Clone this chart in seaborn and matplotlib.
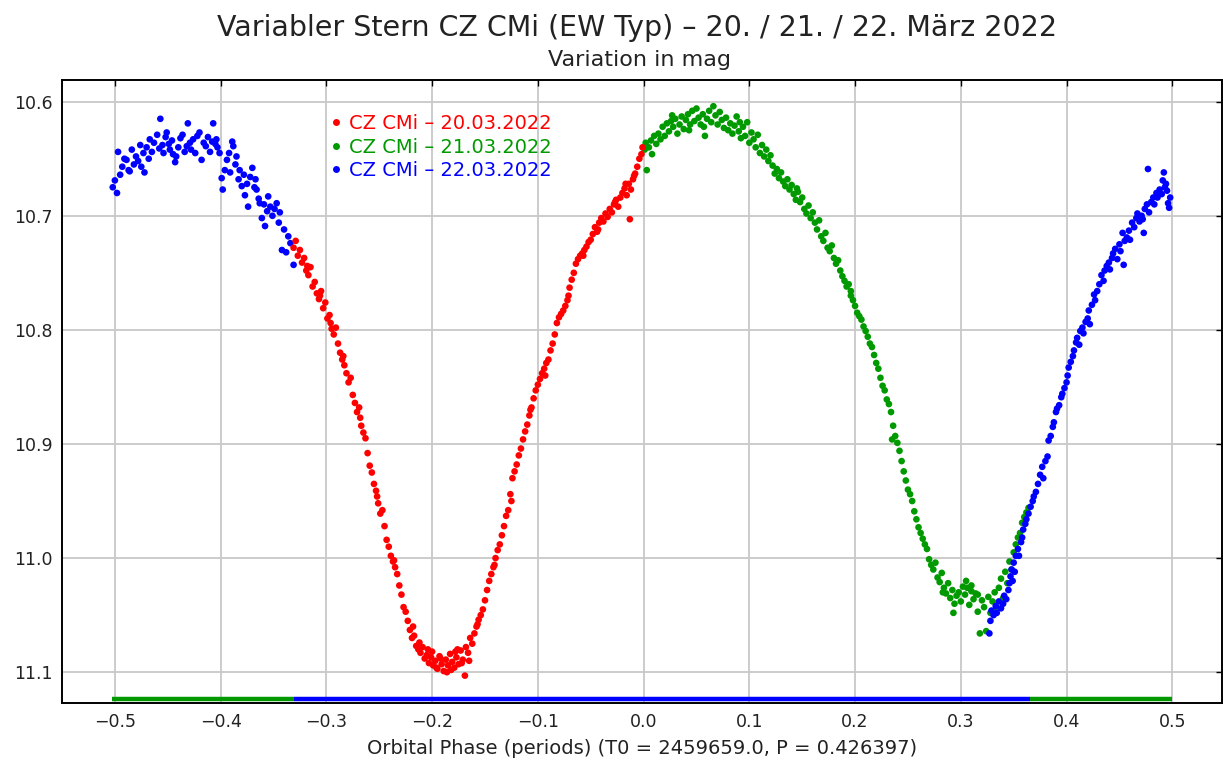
import matplotlib
matplotlib.use("Agg")
import matplotlib.pyplot as plt
import seaborn as sns
import pandas as pd

# ---------------- data ----------------
title = "Variabler Stern CZ CMi (EW Typ) – 20. / 21. / 22. März 2022"
subtitle = "Variation in mag"
xlabel = "Orbital Phase (periods) (T0 = 2459659.0, P = 0.426397)"
labels = ["CZ CMi – 20.03.2022", "CZ CMi – 21.03.2022", "CZ CMi – 22.03.2022"]
colors = ["#ff0000", "#009a00", "#0000ff"]
xticks = [-0.5, -0.4, -0.3, -0.2, -0.1, 0.0, 0.1, 0.2, 0.3, 0.4, 0.5]
yticks = [10.6, 10.7, 10.8, 10.9, 11.0, 11.1]

red_phase = [
    -0.331, -0.329, -0.327, -0.325, -0.323, -0.321, -0.319, -0.317, -0.315, -0.313,
    -0.311, -0.309, -0.307, -0.305, -0.303, -0.301, -0.299, -0.297, -0.295, -0.293,
    -0.291, -0.289, -0.287, -0.285, -0.283, -0.281, -0.279, -0.277, -0.275, -0.273,
    -0.271, -0.269, -0.267, -0.265, -0.263, -0.261, -0.259, -0.257, -0.255, -0.253,
    -0.251, -0.249, -0.247, -0.245, -0.243, -0.241, -0.239, -0.237, -0.235, -0.233,
    -0.231, -0.229, -0.227, -0.225, -0.223, -0.221, -0.219, -0.217, -0.215, -0.213,
    -0.211, -0.209, -0.207, -0.205, -0.203, -0.201, -0.199, -0.197, -0.195, -0.193,
    -0.191, -0.189, -0.187, -0.185, -0.183, -0.181, -0.179, -0.177, -0.175, -0.173,
    -0.171, -0.169, -0.168, -0.166, -0.164, -0.162, -0.160, -0.158, -0.156, -0.154,
    -0.152, -0.150, -0.148, -0.146, -0.144, -0.142, -0.140, -0.138, -0.136, -0.134,
    -0.132, -0.130, -0.128, -0.126, -0.124, -0.122, -0.120, -0.118, -0.116, -0.114,
    -0.112, -0.110, -0.108, -0.106, -0.104, -0.102, -0.100, -0.098, -0.096, -0.094,
    -0.092, -0.090, -0.088, -0.086, -0.084, -0.082, -0.080, -0.078, -0.076, -0.074,
    -0.072, -0.070, -0.068, -0.066, -0.064, -0.062, -0.060, -0.058, -0.056, -0.054,
    -0.052, -0.050, -0.048, -0.046, -0.044, -0.042, -0.040, -0.038, -0.036, -0.034,
    -0.032, -0.030, -0.028, -0.026, -0.024, -0.022, -0.020, -0.018, -0.016, -0.014,
    -0.013, -0.012, -0.010, -0.008, -0.006, -0.004, -0.002, -0.001,
    -0.318, -0.306, -0.296, -0.284, -0.268, -0.252, -0.236, -0.218, -0.204, -0.196,
    -0.186, -0.178, -0.172, -0.157, -0.141, -0.125, -0.107, -0.093, -0.071, -0.057,
    -0.043, -0.027, -0.017, -0.009, -0.212, -0.200, -0.192, -0.182, -0.176, -0.165,
]
red_mag = [
    10.728, 10.722, 10.735, 10.730, 10.741, 10.737, 10.748, 10.752, 10.745, 10.762,
    10.758, 10.768, 10.773, 10.766, 10.781, 10.776, 10.790, 10.787, 10.799, 10.804,
    10.798, 10.812, 10.820, 10.826, 10.831, 10.838, 10.846, 10.842, 10.857, 10.864,
    10.872, 10.868, 10.884, 10.890, 10.895, 10.908, 10.919, 10.925, 10.935, 10.941,
    10.952, 10.961, 10.958, 10.972, 10.984, 10.990, 10.998, 11.003, 11.008, 11.014,
    11.024, 11.032, 11.043, 11.047, 11.055, 11.063, 11.070, 11.068, 11.077, 11.080,
    11.083, 11.078, 11.088, 11.085, 11.092, 11.087, 11.094, 11.090, 11.097, 11.086,
    11.093, 11.099, 11.089, 11.094, 11.084, 11.091, 11.096, 11.087, 11.093, 11.081,
    11.089, 11.103, 11.078, 11.083, 11.070, 11.075, 11.066, 11.060, 11.054, 11.050,
    11.045, 11.037, 11.028, 11.020, 11.014, 11.008, 11.000, 10.993, 10.988, 10.980,
    10.972, 10.963, 10.958, 10.944, 10.930, 10.924, 10.918, 10.910, 10.904, 10.896,
    10.889, 10.883, 10.875, 10.868, 10.860, 10.853, 10.848, 10.843, 10.838, 10.834,
    10.829, 10.826, 10.818, 10.812, 10.804, 10.794, 10.789, 10.786, 10.783, 10.779,
    10.774, 10.763, 10.756, 10.750, 10.742, 10.738, 10.735, 10.733, 10.730, 10.727,
    10.723, 10.721, 10.716, 10.710, 10.714, 10.706, 10.702, 10.705, 10.698, 10.701,
    10.694, 10.697, 10.690, 10.686, 10.692, 10.684, 10.680, 10.676, 10.682, 10.672,
    10.703, 10.677, 10.668, 10.663, 10.657, 10.650, 10.646, 10.640,
    10.744, 10.770, 10.794, 10.823, 10.877, 10.946, 11.002, 11.060, 11.080, 11.096,
    11.100, 11.082, 11.092, 11.058, 11.006, 10.950, 10.870, 10.840, 10.770, 10.735,
    10.712, 10.688, 10.672, 10.665, 11.074, 11.082, 11.088, 11.098, 11.080, 11.090,
]

green_phase = [
    0.001, 0.002, 0.003, 0.005, 0.007, 0.008, 0.010, 0.012, 0.014, 0.016,
    0.018, 0.020, 0.022, 0.024, 0.026, 0.028, 0.030, 0.032, 0.034, 0.036,
    0.038, 0.040, 0.042, 0.044, 0.046, 0.048, 0.050, 0.052, 0.054, 0.056,
    0.058, 0.060, 0.062, 0.064, 0.066, 0.068, 0.070, 0.072, 0.074, 0.076,
    0.078, 0.080, 0.082, 0.084, 0.086, 0.088, 0.090, 0.092, 0.094, 0.096,
    0.098, 0.100, 0.102, 0.104, 0.106, 0.108, 0.110, 0.112, 0.114, 0.116,
    0.118, 0.120, 0.122, 0.124, 0.126, 0.128, 0.130, 0.132, 0.134, 0.136,
    0.138, 0.140, 0.142, 0.144, 0.146, 0.148, 0.150, 0.152, 0.154, 0.156,
    0.158, 0.160, 0.162, 0.164, 0.166, 0.168, 0.170, 0.172, 0.174, 0.176,
    0.178, 0.180, 0.182, 0.184, 0.186, 0.188, 0.190, 0.192, 0.194, 0.196,
    0.198, 0.200, 0.202, 0.204, 0.206, 0.208, 0.210, 0.212, 0.214, 0.216,
    0.218, 0.220, 0.222, 0.224, 0.226, 0.228, 0.230, 0.232, 0.234, 0.236,
    0.238, 0.240, 0.242, 0.244, 0.246, 0.248, 0.250, 0.252, 0.254, 0.256,
    0.258, 0.260, 0.262, 0.264, 0.266, 0.268, 0.270, 0.272, 0.274, 0.276,
    0.278, 0.280, 0.282, 0.284, 0.286, 0.288, 0.290, 0.292, 0.294, 0.296,
    0.298, 0.300, 0.302, 0.304, 0.306, 0.308, 0.310, 0.312, 0.314, 0.316,
    0.318, 0.320, 0.322, 0.324, 0.326, 0.328, 0.330, 0.332, 0.334, 0.336,
    0.338, 0.340, 0.342, 0.344, 0.346, 0.348, 0.350, 0.352, 0.354, 0.356,
    0.358, 0.360, 0.362, 0.364,
    0.305, 0.310, 0.316, 0.293, 0.283, 0.235, 0.196, 0.145, 0.091, 0.057,
    0.043, 0.027,
]
green_mag = [
    10.642, 10.636, 10.660, 10.640, 10.634, 10.646, 10.630, 10.637, 10.628, 10.633,
    10.622, 10.630, 10.619, 10.626, 10.617, 10.622, 10.615, 10.628, 10.620, 10.613,
    10.624, 10.616, 10.611, 10.620, 10.608, 10.617, 10.606, 10.614, 10.620, 10.611,
    10.630, 10.615, 10.608, 10.618, 10.604, 10.612, 10.620, 10.609, 10.616, 10.623,
    10.614, 10.625, 10.619, 10.628, 10.621, 10.613, 10.626, 10.632, 10.622, 10.630,
    10.618, 10.636, 10.627, 10.633, 10.640, 10.629, 10.645, 10.638, 10.648, 10.642,
    10.652, 10.647, 10.656, 10.663, 10.659, 10.667, 10.662, 10.670, 10.674, 10.668,
    10.677, 10.673, 10.681, 10.686, 10.679, 10.688, 10.684, 10.694, 10.698, 10.691,
    10.702, 10.697, 10.706, 10.712, 10.704, 10.718, 10.722, 10.715, 10.728, 10.731,
    10.726, 10.737, 10.742, 10.739, 10.748, 10.753, 10.757, 10.762, 10.760, 10.770,
    10.774, 10.779, 10.785, 10.788, 10.791, 10.797, 10.801, 10.806, 10.812, 10.815,
    10.822, 10.829, 10.834, 10.842, 10.849, 10.853, 10.861, 10.865, 10.872, 10.884,
    10.893, 10.899, 10.906, 10.915, 10.924, 10.932, 10.940, 10.944, 10.950, 10.959,
    10.966, 10.973, 10.978, 10.983, 10.988, 10.992, 11.001, 11.006, 11.010, 11.004,
    11.017, 11.021, 11.013, 11.026, 11.031, 11.022, 11.035, 11.028, 11.040, 11.033,
    11.030, 11.038, 11.025, 11.032, 11.026, 11.041, 11.029, 11.036, 11.031, 11.047,
    11.066, 11.037, 11.043, 11.064, 11.034, 11.048, 11.038, 11.030, 11.044, 11.026,
    11.018, 11.035, 11.012, 11.022, 11.003, 11.010, 10.995, 10.988, 10.982, 10.978,
    10.969, 10.964, 10.960, 10.956,
    11.020, 11.024, 11.032, 11.048, 11.030, 10.896, 10.766, 10.676, 10.618, 10.622,
    10.625, 10.612,
]

blue_phase = [
    -0.502, -0.500, -0.498, -0.497, -0.495, -0.493, -0.491, -0.489, -0.487, -0.486,
    -0.484, -0.482, -0.480, -0.478, -0.476, -0.475, -0.473, -0.472, -0.470, -0.468,
    -0.467, -0.465, -0.463, -0.460, -0.458, -0.457, -0.455, -0.454, -0.452, -0.451,
    -0.449, -0.448, -0.446, -0.445, -0.443, -0.442, -0.440, -0.438, -0.436, -0.434,
    -0.432, -0.431, -0.429, -0.428, -0.426, -0.424, -0.422, -0.420, -0.418, -0.416,
    -0.414, -0.412, -0.410, -0.408, -0.407, -0.405, -0.404, -0.403, -0.401, -0.399,
    -0.398, -0.396, -0.394, -0.392, -0.391, -0.389, -0.388, -0.386, -0.385, -0.383,
    -0.382, -0.380, -0.378, -0.377, -0.375, -0.374, -0.372, -0.370, -0.368, -0.367,
    -0.366, -0.364, -0.363, -0.361, -0.359, -0.358, -0.356, -0.355, -0.353, -0.351,
    -0.349, -0.347, -0.345, -0.344, -0.342, -0.340, -0.338, -0.336, -0.334, -0.331,
    0.327, 0.328, 0.329, 0.331, 0.333, 0.334, 0.336, 0.338, 0.340, 0.341,
    0.343, 0.345, 0.346, 0.347, 0.348, 0.349, 0.350, 0.351, 0.352, 0.354,
    0.355, 0.357, 0.358, 0.359, 0.361, 0.362, 0.364, 0.366, 0.368, 0.369,
    0.371, 0.373, 0.375, 0.377, 0.378, 0.380, 0.382, 0.383, 0.385, 0.387,
    0.388, 0.390, 0.391, 0.393, 0.395, 0.396, 0.398, 0.400, 0.401, 0.402,
    0.404, 0.406, 0.407, 0.409, 0.410, 0.412, 0.413, 0.415, 0.416, 0.418,
    0.420, 0.421, 0.422, 0.424, 0.426, 0.427, 0.429, 0.431, 0.433, 0.435,
    0.436, 0.438, 0.440, 0.441, 0.443, 0.444, 0.446, 0.448, 0.450, 0.451,
    0.453, 0.454, 0.455, 0.457, 0.459, 0.460, 0.462, 0.464, 0.466, 0.467,
    0.469, 0.471, 0.472, 0.473, 0.474, 0.476, 0.477, 0.478, 0.480, 0.482,
    0.483, 0.485, 0.486, 0.488, 0.490, 0.491, 0.492, 0.493, 0.494, 0.495,
    0.496, 0.497, 0.498,
]
blue_mag = [
    10.675, 10.669, 10.680, 10.644, 10.664, 10.657, 10.650, 10.651, 10.660, 10.661,
    10.642, 10.655, 10.648, 10.652, 10.638, 10.657, 10.645, 10.662, 10.640, 10.650,
    10.633, 10.644, 10.636, 10.629, 10.641, 10.615, 10.638, 10.645, 10.631, 10.627,
    10.637, 10.642, 10.634, 10.646, 10.653, 10.648, 10.640, 10.632, 10.629, 10.644,
    10.639, 10.619, 10.636, 10.642, 10.633, 10.645, 10.630, 10.627, 10.651, 10.636,
    10.639, 10.631, 10.644, 10.635, 10.619, 10.637, 10.633, 10.640, 10.645, 10.667,
    10.677, 10.660, 10.651, 10.645, 10.662, 10.635, 10.639, 10.655, 10.648, 10.668,
    10.660, 10.674, 10.664, 10.682, 10.672, 10.692, 10.666, 10.658, 10.675, 10.668,
    10.677, 10.685, 10.689, 10.702, 10.690, 10.709, 10.696, 10.683, 10.692, 10.700,
    10.694, 10.689, 10.706, 10.697, 10.730, 10.712, 10.732, 10.718, 10.724, 10.743,
    11.066, 11.055, 11.046, 11.050, 11.042, 11.048, 11.038, 11.044, 11.040, 11.033,
    11.036, 11.028, 11.022, 11.016, 11.010, 11.020, 11.004, 11.012, 10.998, 10.992,
    10.998, 10.986, 10.982, 10.975, 10.970, 10.966, 10.961, 10.955, 10.950, 10.946,
    10.942, 10.935, 10.927, 10.920, 10.930, 10.915, 10.911, 10.897, 10.893, 10.885,
    10.881, 10.872, 10.869, 10.866, 10.859, 10.856, 10.851, 10.846, 10.840, 10.833,
    10.828, 10.823, 10.818, 10.811, 10.807, 10.813, 10.801, 10.798, 10.803, 10.793,
    10.790, 10.783, 10.795, 10.778, 10.769, 10.774, 10.766, 10.760, 10.752, 10.757,
    10.748, 10.744, 10.741, 10.747, 10.737, 10.733, 10.729, 10.738, 10.725, 10.731,
    10.715, 10.743, 10.722, 10.719, 10.713, 10.721, 10.706, 10.710, 10.702, 10.698,
    10.705, 10.700, 10.703, 10.715, 10.694, 10.690, 10.659, 10.697, 10.688, 10.684,
    10.690, 10.680, 10.684, 10.677, 10.681, 10.669, 10.662, 10.675, 10.672, 10.678,
    10.689, 10.693, 10.684,
]

# coverage strip along the bottom edge
strip_start = [-0.503, -0.331, 0.365]
strip_end = [-0.331, 0.365, 0.500]
strip_color = ["#009a00", "#0000ff", "#009a00"]

# ---------------- build table (draw order: green, blue, red) ----------------
df = pd.concat([
    pd.DataFrame({"phase": green_phase, "mag": green_mag, "series": labels[1]}),
    pd.DataFrame({"phase": blue_phase, "mag": blue_mag, "series": labels[2]}),
    pd.DataFrame({"phase": red_phase, "mag": red_mag, "series": labels[0]}),
], ignore_index=True)

sns.set_style("white")
plt.rcParams["font.family"] = ["DejaVu Sans"]
plt.rcParams["axes.unicode_minus"] = True

fig = plt.figure(figsize=(12.23, 7.60), dpi=100)
ax = fig.add_axes([62 / 1223, 1 - 703 / 760, 1160 / 1223, 623 / 760])

palette = dict(zip(labels, colors))
sns.scatterplot(data=df, x="phase", y="mag", hue="series", hue_order=labels,
                palette=palette, s=23, linewidth=0, ax=ax, legend=True, zorder=3)

for a, b, c in zip(strip_start, strip_end, strip_color):
    ax.hlines(11.1235, a, b, colors=c, linewidth=3.2, zorder=4)

ax.set_xlim(-0.550, 0.547)
ax.set_ylim(11.127, 10.581)
ax.set_xticks(xticks)
ax.set_yticks(yticks)
ax.set_xticklabels([f"{v:.1f}".replace("-", "\u2212") for v in xticks])
ax.set_yticklabels([f"{v:.1f}" for v in yticks])
ax.grid(True, color="#c8c8c8", linewidth=1.3)
ax.set_axisbelow(True)
for sp in ax.spines.values():
    sp.set_visible(True)
    sp.set_color("black")
    sp.set_linewidth(1.4)
ax.tick_params(axis="both", which="major", direction="in", length=4, width=1,
               top=True, right=True, labelsize=12.5, colors="black",
               labelcolor="#222222", pad=7)
ax.set_xlabel(xlabel, fontsize=14, color="#222222", labelpad=6)
ax.set_ylabel("")

old = ax.get_legend()
handles = old.legend_handles
for h in handles:
    try:
        h.set_markersize(5)
    except Exception:
        pass
leg = ax.legend(handles, labels, loc="upper left", bbox_to_anchor=(0.231, 0.945),
                frameon=False, fontsize=14, handlelength=0.6, handletextpad=0.4,
                labelspacing=0.22, borderpad=0, borderaxespad=0)
for t, c in zip(leg.get_texts(), colors):
    t.set_color(c)

fig.text(637 / 1223, 1 - 28 / 760, title, ha="center", va="center",
         fontsize=20.5, color="#222222")
fig.text(640 / 1223, 1 - 60 / 760, subtitle, ha="center", va="center",
         fontsize=16, color="#222222")

fig.savefig("out.png", dpi=100)
